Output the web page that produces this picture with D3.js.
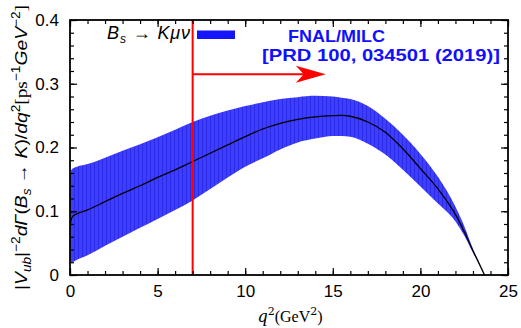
<!DOCTYPE html>
<html>
<head>
<meta charset="utf-8">
<script src="https://cdn.jsdelivr.net/npm/d3@7"></script>
<style>
body { margin: 0; background: #fff; }
svg { display: block; }
</style>
</head>
<body>
<div class="chart"></div>
<script>
// q^2 points (GeV^2) and the band
var q2 =      [0,     0.05,  0.15,  0.4,   1,     2,     3,     4,     5,     6,     7,     8,     9,     10,    11,    12,    13,    14,    15,    15.5,  16,    17,    18,    19,    20,    21,    22,    22.5,  23,    23.3,  23.66];
var central = [0.068, 0.085, 0.092, 0.096, 0.102, 0.115, 0.128, 0.140, 0.153, 0.165, 0.178, 0.191, 0.204, 0.217, 0.229, 0.238, 0.244, 0.248, 0.250, 0.2505,0.249, 0.240, 0.224, 0.198, 0.167, 0.135, 0.095, 0.068, 0.038, 0.021, 0];
var upper =   [0.155, 0.163, 0.167, 0.170, 0.174, 0.184, 0.195, 0.205, 0.216, 0.228, 0.240, 0.250, 0.258, 0.265, 0.271, 0.276, 0.279, 0.281, 0.280, 0.278, 0.276, 0.265, 0.245, 0.220, 0.190, 0.154, 0.107, 0.077, 0.041, 0.022, 0];
var lower =   [0.018, 0.019, 0.020, 0.024, 0.031, 0.046, 0.060, 0.074, 0.088, 0.102, 0.117, 0.135, 0.153, 0.170, 0.183, 0.197, 0.208, 0.214, 0.218, 0.218, 0.217, 0.206, 0.189, 0.165, 0.139, 0.112, 0.084, 0.062, 0.035, 0.020, 0];
var xTicks = [0, 5, 10, 15, 20, 25];
var yTicks = [0, 0.1, 0.2, 0.3, 0.4];
var qCut = 7;

var svgWidth = 521;
var svgHeight = 328;
var margin = { top: 20, right: 13, bottom: 53, left: 70 };
var width = svgWidth - margin.left - margin.right;
var height = svgHeight - margin.top - margin.bottom;

var svg = d3.select(".chart").append("svg")
    .attr("width", svgWidth)
    .attr("height", svgHeight);

var defs = svg.append("defs");
var pat = defs.append("pattern")
    .attr("id", "stripes")
    .attr("patternUnits", "userSpaceOnUse")
    .attr("width", 4).attr("height", 10);
pat.append("rect").attr("width", 4).attr("height", 10).attr("fill", "#3e3eff");
pat.append("rect").attr("x", 0).attr("width", 1).attr("height", 10).attr("fill", "#2a2ae8");

defs.append("clipPath").attr("id", "clip")
    .append("rect").attr("width", width).attr("height", height);

var chart = svg.append("g")
    .attr("transform", `translate(${margin.left},${margin.top})`);

var xScale = d3.scaleLinear().domain([0, 25]).range([0, width]);
var yScale = d3.scaleLinear().domain([0, 0.4]).range([height, 0]);

var rows = q2.map(function (q, i) {
    return { q: q, c: central[i], lo: lower[i], hi: upper[i] };
});

var plot = chart.append("g").attr("clip-path", "url(#clip)");

var area = d3.area()
    .curve(d3.curveMonotoneX)
    .x(function (d) { return xScale(d.q); })
    .y0(function (d) { return yScale(d.lo); })
    .y1(function (d) { return yScale(d.hi); });

plot.append("path")
    .datum(rows)
    .attr("d", area)
    .attr("fill", "url(#stripes)");

var line = d3.line()
    .curve(d3.curveMonotoneX)
    .x(function (d) { return xScale(d.q); })
    .y(function (d) { return yScale(d.c); });

plot.append("path")
    .datum(rows)
    .attr("d", line)
    .attr("fill", "none")
    .attr("stroke", "#000")
    .attr("stroke-width", 1.3);

// red cut line and arrow
chart.append("line")
    .attr("x1", xScale(qCut)).attr("x2", xScale(qCut))
    .attr("y1", 0).attr("y2", height)
    .attr("stroke", "#ff0000").attr("stroke-width", 2);

var arrowY = yScale(0.315);
var tipX = xScale(14.6);
chart.append("line")
    .attr("x1", xScale(qCut)).attr("x2", tipX - 20)
    .attr("y1", arrowY).attr("y2", arrowY)
    .attr("stroke", "#ff0000").attr("stroke-width", 2);
chart.append("path")
    .attr("d", `M${tipX},${arrowY} L${tipX - 30},${arrowY - 8.5} L${tipX - 22},${arrowY} L${tipX - 30},${arrowY + 8.5} Z`)
    .attr("fill", "#ff0000");

// ticks (inward, all four sides)
var tickFont = "'Liberation Sans', Arial, sans-serif";
var xMinor = d3.range(0, 25.01, 1);
var yMinor = d3.range(0, 0.401, 0.02);

var axisBottom = d3.axisBottom(xScale).tickValues(xMinor).tickSize(-4).tickFormat("");
var axisTop = d3.axisTop(xScale).tickValues(xMinor).tickSize(-4).tickFormat("");
var axisLeft = d3.axisLeft(yScale).tickValues(yMinor).tickSize(-4).tickFormat("");
var axisRight = d3.axisRight(yScale).tickValues(yMinor).tickSize(-4).tickFormat("");

chart.append("g").attr("transform", `translate(0,${height})`).call(axisBottom);
chart.append("g").call(axisTop);
chart.append("g").call(axisLeft);
chart.append("g").attr("transform", `translate(${width},0)`).call(axisRight);

chart.append("g").attr("transform", `translate(0,${height})`)
    .call(d3.axisBottom(xScale).tickValues(xTicks).tickSize(-7).tickPadding(10).tickFormat(d3.format("d")));
chart.append("g")
    .call(d3.axisTop(xScale).tickValues(xTicks).tickSize(-7).tickFormat(""));
chart.append("g")
    .call(d3.axisLeft(yScale).tickValues(yTicks).tickSize(-7).tickPadding(11)
        .tickFormat(function (d) { return d === 0 ? "0" : d3.format(".1f")(d); }));
chart.append("g").attr("transform", `translate(${width},0)`)
    .call(d3.axisRight(yScale).tickValues(yTicks).tickSize(-7).tickFormat(""));

chart.selectAll(".domain").remove();
chart.selectAll(".tick line").attr("stroke", "#000").attr("stroke-width", 1.2);
chart.selectAll(".tick text").attr("fill", "#000").style("font-family", tickFont).style("font-size", "17px");

chart.append("rect")
    .attr("width", width).attr("height", height)
    .attr("fill", "none").attr("stroke", "#000").attr("stroke-width", 1.8);

// legend
var leg = chart.append("text")
    .attr("x", 37).attr("y", 18.5)
    .attr("textLength", 83).attr("lengthAdjust", "spacing")
    .style("font-family", tickFont).style("font-size", "18px").style("font-style", "italic");
leg.append("tspan").text("B");
leg.append("tspan").attr("dy", 4).style("font-size", "12px").text("s");
leg.append("tspan").attr("dy", -4).style("font-style", "normal").text(" \u2192 ");
leg.append("tspan").text("K\u03bc\u03bd");

chart.append("rect")
    .attr("x", 127).attr("y", 10.5).attr("width", 38).attr("height", 8.5)
    .attr("fill", "#1414ff");

chart.append("text")
    .attr("x", 218).attr("y", 21.5)
    .attr("fill", "#1010ff")
    .attr("textLength", 97).attr("lengthAdjust", "spacingAndGlyphs")
    .style("font-family", tickFont).style("font-size", "16.5px").style("font-weight", "bold")
    .text("FNAL/MILC");
chart.append("text")
    .attr("x", 192).attr("y", 40.5)
    .attr("fill", "#1010ff")
    .attr("textLength", 238).attr("lengthAdjust", "spacingAndGlyphs")
    .style("font-family", tickFont).style("font-size", "16.5px").style("font-weight", "bold")
    .text("[PRD 100, 034501 (2019)]");

// x label
var xl = svg.append("text")
    .attr("x", 290).attr("y", 322)
    .attr("text-anchor", "middle")
    .style("font-family", "'DejaVu Serif', 'Liberation Serif', serif")
    .style("font-size", "16px");
xl.append("tspan").style("font-style", "italic").text("q");
xl.append("tspan").attr("dy", -7).style("font-size", "11px").text("2");
xl.append("tspan").attr("dy", 7).style("font-family", "'Liberation Serif', serif").text("(GeV");
xl.append("tspan").attr("dy", -7).style("font-size", "11px").text("2");
xl.append("tspan").attr("dy", 7).style("font-family", "'Liberation Serif', serif").text(")");

// y label
var yl = svg.append("text")
    .attr("transform", "translate(27,147.5)rotate(-90)")
    .attr("text-anchor", "middle")
    .attr("textLength", 285).attr("lengthAdjust", "spacingAndGlyphs")
    .style("font-family", tickFont)
    .style("font-size", "17px");
yl.append("tspan").text("|");
yl.append("tspan").style("font-style", "italic").text("V");
yl.append("tspan").attr("dy", 4).style("font-size", "12px").style("font-style", "italic").text("ub");
yl.append("tspan").attr("dy", -4).text("|");
yl.append("tspan").attr("dy", -7).style("font-size", "12px").text("\u22122");
yl.append("tspan").attr("dy", 7).style("font-style", "italic").text("d\u0393");
yl.append("tspan").text("(");
yl.append("tspan").style("font-style", "italic").text("B");
yl.append("tspan").attr("dy", 4).style("font-size", "12px").style("font-style", "italic").text("s");
yl.append("tspan").attr("dy", -4).text(" \u2192 ");
yl.append("tspan").style("font-style", "italic").text("K");
yl.append("tspan").text(")/");
yl.append("tspan").style("font-style", "italic").text("dq");
yl.append("tspan").attr("dy", -7).style("font-size", "12px").text("2");
yl.append("tspan").attr("dy", 7).style("font-family", "'Liberation Serif', serif").text("[ps");
yl.append("tspan").attr("dy", -7).style("font-size", "12px").text("\u22121");
yl.append("tspan").attr("dy", 7).style("font-style", "italic").text("GeV");
yl.append("tspan").attr("dy", -7).style("font-size", "12px").text("\u22122");
yl.append("tspan").attr("dy", 7).style("font-family", "'Liberation Serif', serif").text("]");
</script>
</body>
</html>
